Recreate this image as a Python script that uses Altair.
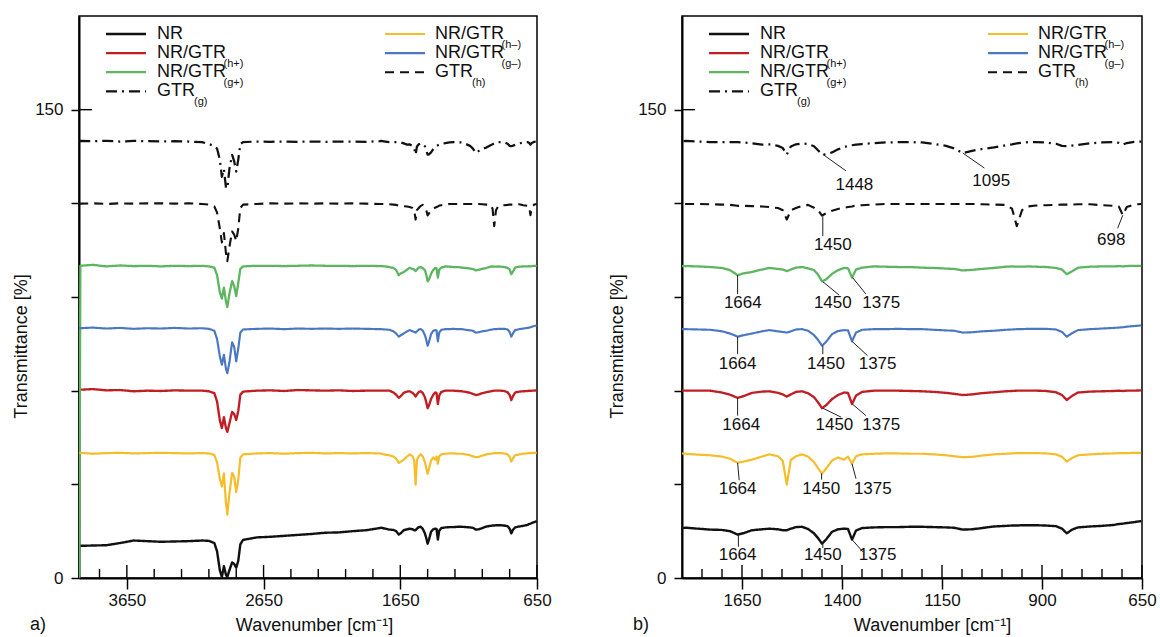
import altair as alt
import pandas as pd

FONT = "Liberation Sans"

# ---------------- data ----------------
WAVENUMBER = [3998, 3990, 3900, 3800, 3700, 3600, 3500, 3400, 3300, 3200,
              3100, 3050, 3010, 2990, 2970, 2955, 2940, 2925, 2915, 2900,
              2880, 2865, 2850, 2835, 2820, 2800, 2700, 2600, 2500, 2400,
              2300, 2200, 2100, 2000, 1900, 1800, 1790, 1760, 1730, 1700,
              1680, 1661, 1645, 1625, 1600, 1582, 1560, 1548, 1538, 1528,
              1515, 1500, 1485, 1470, 1460, 1450, 1440, 1425, 1410, 1395,
              1385, 1375, 1365, 1350, 1320, 1290, 1260, 1230, 1200, 1170,
              1140, 1120, 1098, 1075, 1050, 1020, 990, 975, 963, 950,
              935, 915, 890, 865, 850, 838, 825, 810, 780, 750,
              720, 708, 698, 688, 670, 652]

NR = [10.2, 10.3, 10.4, 10.5, 11.2, 12.0, 11.8, 11.6, 11.7, 11.8,
      12.0, 11.9, 11.2, 8.5, 2.5, 0.3, 3.8, 1.0, 0.3, 2.5,
      5.0, 4.5, 3.3, 5.5, 10.8, 12.2, 13.0, 13.2, 13.5, 13.8,
      14.1, 14.5, 14.6, 15.0, 15.3, 16.0, 16.1, 15.8, 15.5, 15.4,
      15.0, 13.9, 14.4, 15.3, 15.6, 15.8, 15.6, 15.3, 15.3, 15.8,
      16.3, 16.4, 15.7, 14.3, 12.8, 11.0, 12.3, 14.8, 15.6, 15.8,
      15.7, 12.3, 15.2, 16.0, 16.2, 16.3, 16.3, 16.4, 16.4, 16.3,
      16.2, 16.1, 15.5, 15.6, 16.0, 16.5, 16.7, 16.8, 16.8, 16.9,
      16.9, 16.9, 16.8, 16.6, 15.8, 14.3, 15.5, 16.2, 16.5, 16.7,
      17.0, 17.3, 17.4, 17.6, 17.9, 18.2]

NR_GTR_HP = [60.2, 60.3, 60.5, 60.1, 60.2, 59.8, 60.0, 59.9, 60.1, 60.0,
             60.0, 59.8, 59.2, 56.5, 50.5, 48.0, 51.5, 48.0, 46.8, 49.5,
             53.2, 52.5, 50.6, 53.5, 58.7, 59.7, 60.0, 60.1, 59.9, 60.2,
             60.1, 60.0, 60.1, 59.9, 60.0, 60.0, 60.0, 60.0, 60.0, 59.4,
             58.7, 57.7, 58.3, 59.3, 59.7, 59.8, 59.3, 58.8, 58.1, 58.8,
             59.6, 59.8, 59.2, 57.9, 56.3, 54.4, 55.3, 57.3, 58.6, 59.4,
             59.3, 55.7, 58.4, 59.6, 60.0, 60.0, 60.0, 59.9, 59.8, 59.6,
             59.3, 59.0, 58.6, 58.8, 59.2, 59.5, 59.8, 59.9, 60.0, 60.0,
             60.0, 60.0, 59.9, 59.5, 58.6, 57.0, 58.3, 59.4, 59.7, 59.8,
             59.9, 60.0, 59.9, 60.0, 60.0, 60.1]

NR_GTR_GP = [0.0, 100.0, 100.3, 99.8, 100.1, 99.9, 100.0, 99.8, 100.0, 99.9,
             100.0, 99.8, 99.4, 97.0, 91.5, 89.5, 93.0, 88.5, 86.8, 91.0,
             95.1, 93.5, 90.3, 94.5, 99.0, 99.8, 100.0, 100.0, 99.9, 100.0,
             100.1, 100.0, 100.0, 99.9, 100.0, 99.9, 99.9, 99.8, 99.6, 99.3,
             98.6, 97.0, 97.6, 98.0, 98.8, 99.3, 99.0, 98.8, 98.3, 98.8,
             99.4, 99.6, 99.2, 98.6, 97.2, 95.0, 95.6, 97.4, 98.6, 99.3,
             99.2, 96.2, 98.8, 99.4, 99.8, 99.7, 99.6, 99.6, 99.4, 99.3,
             99.1, 99.0, 98.5, 98.7, 99.0, 99.3, 99.7, 99.8, 99.7, 99.7,
             99.8, 99.7, 99.6, 99.3, 98.8, 97.3, 98.2, 99.4, 99.7, 99.8,
             99.8, 99.9, 99.8, 99.9, 100.0, 100.0]

NR_GTR_HM = [40.0, 40.1, 39.8, 40.0, 40.1, 39.9, 40.0, 40.1, 40.0, 39.9,
             40.0, 39.9, 39.4, 37.0, 31.8, 29.3, 33.5, 24.0, 20.3, 27.0,
             33.7, 32.5, 27.5, 31.5, 38.5, 39.6, 39.9, 40.0, 39.8, 40.0,
             40.1, 39.9, 40.0, 39.9, 40.0, 39.9, 39.8, 39.5, 39.3, 38.9,
             38.2, 36.9, 37.3, 37.9, 38.9, 39.6, 39.0, 37.5, 29.9, 37.8,
             39.0, 39.6, 38.9, 37.1, 35.2, 33.4, 35.0, 37.6, 38.6, 37.9,
             38.9, 36.6, 39.0, 39.6, 39.8, 39.9, 39.9, 39.8, 39.8, 39.6,
             39.3, 39.0, 38.7, 38.8, 39.2, 39.6, 39.8, 39.9, 40.0, 40.0,
             40.0, 40.0, 39.9, 39.6, 38.8, 37.3, 38.4, 39.3, 39.6, 39.8,
             39.9, 40.0, 40.0, 40.0, 40.1, 40.1]

NR_GTR_GM = [80.2, 80.0, 80.2, 79.9, 80.1, 79.8, 80.0, 79.9, 80.1, 79.9,
             80.0, 79.8, 79.2, 76.5, 71.0, 68.3, 71.5, 67.0, 65.6, 69.0,
             75.5, 74.0, 69.4, 73.5, 78.6, 79.6, 79.8, 79.9, 79.7, 79.9,
             79.8, 79.9, 79.8, 79.9, 79.8, 79.7, 79.7, 79.6, 79.5, 79.0,
             78.3, 77.3, 77.8, 78.3, 79.0, 79.4, 79.0, 78.8, 78.6, 79.0,
             79.6, 79.7, 79.2, 77.8, 76.3, 74.4, 75.6, 78.1, 79.1, 79.4,
             79.3, 75.8, 78.6, 79.5, 79.7, 79.7, 79.8, 79.7, 79.7, 79.5,
             79.3, 79.2, 78.6, 78.7, 79.0, 79.2, 79.5, 79.6, 79.7, 79.7,
             79.8, 79.8, 79.8, 79.6, 78.8, 77.3, 78.4, 79.4, 79.7, 79.9,
             80.1, 80.2, 80.3, 80.5, 80.7, 80.9]

GTR_H = [119.8, 119.9, 120.0, 119.8, 120.0, 119.9, 120.0, 120.0, 119.9, 120.0,
         119.8, 119.6, 119.0, 117.0, 112.0, 107.5, 110.5, 104.0, 101.5, 106.0,
         111.0, 110.0, 107.9, 112.0, 118.5, 119.6, 119.8, 120.0, 119.9, 120.0,
         119.9, 120.0, 119.9, 120.0, 119.9, 119.8, 119.8, 119.8, 119.7, 119.6,
         119.5, 119.2, 119.2, 119.1, 119.0, 118.8, 118.5, 117.8, 114.8, 117.8,
         118.5, 119.2, 119.5, 118.6, 117.8, 116.1, 116.8, 117.6, 118.2, 118.6,
         118.8, 119.0, 119.3, 119.4, 119.6, 119.8, 119.8, 119.8, 119.8, 119.8,
         119.8, 119.8, 119.8, 119.8, 119.7, 119.6, 119.5, 118.3, 112.7, 117.8,
         119.0, 119.3, 119.4, 119.5, 119.6, 119.6, 119.6, 119.7, 119.7, 119.4,
         119.2, 119.0, 116.2, 118.8, 119.6, 119.8]

GTR_G = [139.9, 140.0, 139.9, 140.0, 139.8, 140.0, 139.9, 139.8, 139.9, 139.8,
         139.6, 139.0, 138.3, 137.5, 134.0, 128.5, 131.0, 125.0, 124.8, 131.0,
         135.5, 133.5, 130.2, 134.0, 139.0, 139.6, 139.8, 139.7, 139.8, 139.7,
         139.8, 139.7, 139.8, 139.8, 139.7, 139.9, 140.0, 139.8, 139.6, 139.6,
         139.6, 139.6, 139.5, 139.2, 138.8, 138.9, 138.4, 137.7, 135.6, 138.2,
         138.9, 139.2, 139.0, 138.3, 137.0, 135.6, 135.7, 136.3, 137.3, 138.0,
         138.4, 138.6, 138.8, 139.0, 139.3, 139.5, 139.6, 139.6, 139.5, 139.0,
         138.4, 137.6, 136.1, 136.8, 137.4, 137.9, 138.6, 138.9, 139.2, 139.4,
         139.6, 139.6, 139.5, 139.1, 138.4, 138.3, 138.5, 138.7, 139.2, 139.5,
         139.6, 139.4, 138.8, 139.3, 139.7, 139.8]

SERIES = ["NR", "NR/GTR(h+)", "NR/GTR(g+)", "GTR(g)", "NR/GTR(h–)", "NR/GTR(g–)", "GTR(h)"]
SERIES_VALUES = [NR, NR_GTR_HP, NR_GTR_GP, GTR_G, NR_GTR_HM, NR_GTR_GM, GTR_H]
COLORS = ["#111111", "#bf1e24", "#5cb55f", "#111111", "#f6bd2a", "#4a77c1", "#111111"]
DASHES = [[1, 0], [1, 0], [1, 0], [11, 5, 2, 5], [1, 0], [1, 0], [9, 6]]
WIDTHS = [2.4, 2.1, 2.1, 2.4, 2.1, 2.1, 2.4]

# legend
LEG_MAIN = ["NR", "NR/GTR", "NR/GTR", "GTR", "NR/GTR", "NR/GTR", "GTR"]
LEG_SUB = ["", "(h+)", "(g+)", "(g)", "(h–)", "(g–)", "(h)"]
LEG_COL = [0, 0, 0, 0, 1, 1, 1]
LEG_ROW = [0, 1, 2, 3, 0, 1, 2]

# annotations (right panel)
ANN_LABEL = ["1448", "1095", "1450", "698",
             "1664", "1450", "1375",
             "1664", "1450", "1375",
             "1664", "1450", "1375",
             "1664", "1450", "1375",
             "1664", "1450", "1375"]
ANN_WN = [1448, 1098, 1448, 698, 1661, 1448, 1374, 1661, 1448, 1375,
          1661, 1448, 1374, 1661, 1451, 1375, 1659, 1448, 1375]
ANN_T = [135.7, 136.1, 115.9, 116.2, 97.0, 94.9, 96.3, 77.3, 74.4, 75.8,
         57.7, 54.4, 55.7, 36.9, 33.5, 36.6, 14.0, 11.0, 12.3]
ANN_WN_END = [1390, 1044, 1448, 711, 1661, 1407, 1340, 1661, 1448, 1336,
              1661, 1402, 1340, 1657, 1451, 1365, 1659, 1448, 1348]
ANN_T_END = [130.4, 131.3, 109.5, 112.0, 90.9, 90.6, 90.9, 71.7, 71.7, 71.2,
             52.0, 51.5, 52.0, 31.3, 31.5, 31.8, 10.0, 9.6, 8.4]
ANN_WN_TEXT = [1369, 1027, 1423, 727, 1648, 1423, 1302, 1661, 1440, 1311,
               1652, 1419, 1302, 1661, 1452, 1323, 1661, 1448, 1311]
ANN_T_TEXT = [126.0, 127.0, 106.8, 108.4, 88.2, 88.2, 88.2, 68.7, 68.7, 68.7,
              49.0, 49.0, 49.0, 28.6, 28.6, 28.6, 7.3, 7.3, 7.3]

LEFT_MAJOR = [3650, 2650, 1650, 650]
LEFT_MINOR = [3850, 3450, 3250, 3050, 2850, 2450, 2250, 2050, 1850, 1450, 1250, 1050, 850]
RIGHT_MAJOR = [1650, 1400, 1150, 900, 650]
RIGHT_MINOR = [1750, 1700, 1600, 1550, 1500, 1450, 1350, 1300, 1250, 1200,
               1100, 1050, 1000, 950, 850, 800, 750, 700]
Y_TICKS = [0, 30, 60, 90, 120, 150]
Y_MAX = 180

# ---------------- tables ----------------
lines_df = pd.DataFrame(
    [{"series": s, "wn": w, "t": t}
     for s, vals in zip(SERIES, SERIES_VALUES)
     for w, t in zip(WAVENUMBER, vals)]
)

H = 562
ROW_Y0, ROW_DY = 18, 19.1          # legend rows, pixels from the plot top
SW_X = [(27, 67), (306, 346)]      # legend swatch spans, pixels from the plot left
TXT_X = [78, 356]                  # legend label starts
MAIN_W = {"NR": 28.0, "NR/GTR": 66.0, "GTR": 36.5}
SUB_DY = 10.5

ann_df = pd.DataFrame({
    "label": ANN_LABEL, "wn": ANN_WN, "t": ANN_T,
    "wn2": ANN_WN_END, "t2": ANN_T_END,
    "wnt": ANN_WN_TEXT, "tt": ANN_T_TEXT,
})

color_scale = alt.Scale(domain=SERIES, range=COLORS)
dash_scale = alt.Scale(domain=SERIES, range=DASHES)
width_scale = alt.Scale(domain=SERIES, range=WIDTHS)


def panel(xmin, xmax, width, major, minor, title_x, ytitle_x, letter, annotate):
    xs = alt.Scale(domain=[xmin, xmax], reverse=True, nice=False, zero=False)
    ys = alt.Scale(domain=[0, Y_MAX], nice=False, zero=False)

    def px(p):  # pixel offset from left edge -> wavenumber
        return xmax - p * (xmax - xmin) / width

    def py(p):  # pixel offset from top edge -> transmittance
        return Y_MAX - p * Y_MAX / H

    leg_df = pd.DataFrame({
        "series": SERIES,
        "main": LEG_MAIN,
        "sub": LEG_SUB,
        "x0": [px(SW_X[c][0]) for c in LEG_COL],
        "x1": [px(SW_X[c][1]) for c in LEG_COL],
        "tx": [px(TXT_X[c]) for c in LEG_COL],
        "sx": [px(TXT_X[c] + MAIN_W[m] + 0.5) for c, m in zip(LEG_COL, LEG_MAIN)],
        "y": [py(ROW_Y0 + ROW_DY * r) for r in LEG_ROW],
        "sy": [py(ROW_Y0 + ROW_DY * r + SUB_DY) for r in LEG_ROW],
    })

    lines = alt.Chart(lines_df).mark_line(clip=True, strokeJoin="round").encode(
        x=alt.X("wn:Q", scale=xs, axis=alt.Axis(
            values=major, format="d", title="Wavenumber [cm⁻¹]",
            tickSize=11, labelPadding=3, labelFlush=False,
            titleX=title_x, titleY=47, titleBaseline="middle")),
        y=alt.Y("t:Q", scale=ys, axis=alt.Axis(
            values=Y_TICKS, title="Transmittance [%]",
            labelExpr="datum.value == 0 || datum.value == 150 ? datum.label : ''",
            tickSize=8, labelPadding=8,
            titleX=ytitle_x, titleY=330, titleBaseline="middle", titleAngle=270)),
        color=alt.Color("series:N", scale=color_scale, legend=None),
        strokeDash=alt.StrokeDash("series:N", scale=dash_scale, legend=None),
        strokeWidth=alt.StrokeWidth("series:N", scale=width_scale, legend=None),
    )

    minor_ticks = alt.Chart(pd.DataFrame({"wn": minor})).mark_rule(
        color="black", strokeWidth=1.4).encode(
        x=alt.X("wn:Q", scale=xs),
        y=alt.value(H), y2=alt.value(H - 9))
    major_ticks = alt.Chart(pd.DataFrame({"wn": major})).mark_rule(
        color="black", strokeWidth=1.4).encode(
        x=alt.X("wn:Q", scale=xs),
        y=alt.value(H), y2=alt.value(H - 13))
    ytick = alt.Chart(pd.DataFrame({"t": [150]})).mark_rule(
        color="black", strokeWidth=1.4).encode(
        y=alt.Y("t:Q", scale=ys),
        x=alt.value(0), x2=alt.value(13))

    swatch = alt.Chart(leg_df).mark_rule().encode(
        x=alt.X("x0:Q", scale=xs), x2="x1:Q",
        y=alt.Y("y:Q", scale=ys),
        color=alt.Color("series:N", scale=color_scale, legend=None),
        strokeDash=alt.StrokeDash("series:N", scale=dash_scale, legend=None),
        strokeWidth=alt.StrokeWidth("series:N", scale=width_scale, legend=None),
    )
    leg_main = alt.Chart(leg_df).mark_text(
        align="left", baseline="middle", font=FONT, fontSize=18, color="#111").encode(
        x=alt.X("tx:Q", scale=xs), y=alt.Y("y:Q", scale=ys), text="main:N")
    leg_sub = alt.Chart(leg_df).mark_text(
        align="left", baseline="middle", font=FONT, fontSize=11, color="#111").encode(
        x=alt.X("sx:Q", scale=xs), y=alt.Y("sy:Q", scale=ys), text="sub:N")

    letter_txt = alt.Chart(pd.DataFrame({"s": [letter]})).mark_text(
        align="center", baseline="middle", font=FONT, fontSize=18, color="#111").encode(
        text="s:N", x=alt.value(-41), y=alt.value(H + 47))

    layers = [lines, minor_ticks, major_ticks, ytick, swatch, leg_main, leg_sub, letter_txt]

    if annotate:
        leaders = alt.Chart(ann_df).mark_rule(color="#222", strokeWidth=1).encode(
            x=alt.X("wn:Q", scale=xs), x2="wn2:Q",
            y=alt.Y("t:Q", scale=ys), y2="t2:Q")
        labels = alt.Chart(ann_df).mark_text(
            align="center", baseline="middle", font=FONT, fontSize=17, color="#111").encode(
            x=alt.X("wnt:Q", scale=xs),
            y=alt.Y("tt:Q", scale=ys), text="label:N")
        layers += [leaders, labels]

    return alt.layer(*layers).properties(width=width, height=H)


left = panel(650, 4000, 458, LEFT_MAJOR, LEFT_MINOR, 235, -58, "a)", False)
right = panel(650, 1800, 460, RIGHT_MAJOR, RIGHT_MINOR, 250, -65, "b)", True)

chart = alt.hconcat(left, right, spacing=55).properties(
    padding={"left": 11, "top": 15, "right": 0, "bottom": 0}
).configure_view(
    stroke="black", strokeWidth=1.5
).configure_axis(
    grid=False, domainColor="black", domainWidth=2, tickColor="black", tickWidth=1.5,
    labelFont=FONT, labelFontSize=17, labelColor="#111",
    titleFont=FONT, titleFontSize=18, titleFontWeight="normal", titleColor="#111",
)

chart.save("out.html", embed_options={"renderer": "svg", "actions": False})
